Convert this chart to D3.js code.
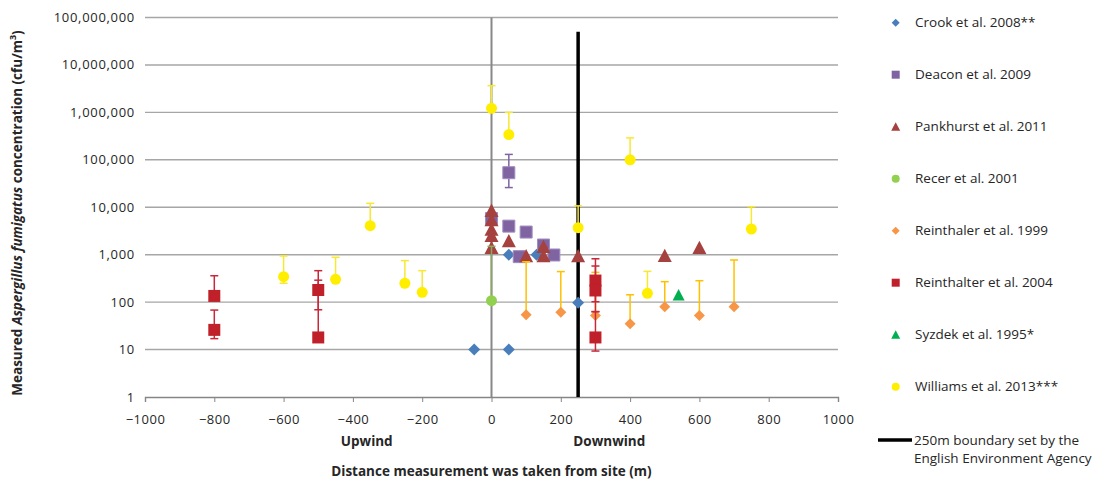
<!DOCTYPE html>
<html><head><meta charset="utf-8">
<script src="https://cdn.jsdelivr.net/npm/d3@7"></script>
<style>body{margin:0;background:#fff}svg{display:block}text{font-family:"Open Sans",sans-serif;fill:#262626}</style>
</head><body><svg id="c" width="1104" height="479"></svg>
<script>
// ---- data: [distance m, concentration, lowErr?, highErr?] ----
const crook = [[-50,10],[50,10],[50,1000],[130,1000],[250,97]];
const deacon = [[0,5800],[50,53500,26000,130000],[50,4000],[100,3000],[150,1600],[180,985],[80,910]];
const pankhurst = [[0,8500],[0,5400],[0,3400],[0,2500],[0,1400],[50,1940],[100,940],[150,1470],[150,940],[250,940],[500,950],[600,1400]];
const recer = [[0,107,null,1500]];
const reinthaler = [[100,54,null,710],[200,61,null,440],[300,52,null,425],[400,35,null,143],[500,80,null,270],[600,52,null,283],[700,80,null,773]];
const reinthalter = [[-800,135,null,360],[-800,26,17,68],[-500,180,69,460],[-500,18,null,290],[300,285,102,820],[300,176,63,577],[300,18,9.3,63]];
const syzdek = [[540,141]];
const williams = [[0,1220000,null,3650000],[50,340000,null,1000000],[400,100000,null,290000],[250,3700,null,10700],[750,3480,null,10260],[-350,4080,null,12100],[-600,344,250,940],[-450,303,null,880],[-250,250,null,750],[-200,161,null,460],[450,153,null,445]];
const seriesNames = ["Crook et al. 2008**","Deacon et al. 2009","Pankhurst et al. 2011","Recer et al. 2001","Reinthaler et al. 1999","Reinthalter et al. 2004","Syzdek et al. 1995*","Williams et al. 2013***"];
const xTicks = [-1000,-800,-600,-400,-200,0,200,400,600,800,1000];
const yTicks = [1,10,100,1000,10000,100000,1000000,10000000,100000000];
const boundaryX = 250;
const boundaryTop = 50000000;

// ---- styles ----
const styles = [
 {data:crook, shape:"diamond", fill:"#4a7ebb", err:"#4a7ebb", size:12},
 {data:deacon, shape:"square", fill:"#8064a2", stroke:"#a08cc0", err:"#8064a2", size:12},
 {data:pankhurst, shape:"triangle", fill:"#a5413e", err:"#a5413e", size:14},
 {data:recer, shape:"circle", fill:"#92d050", err:"#8aa85e", size:11},
 {data:reinthaler, shape:"diamond", fill:"#f79646", err:"#ffc000", size:11},
 {data:reinthalter, shape:"square", fill:"#c0202a", err:"#c8283a", size:12},
 {data:syzdek, shape:"triangle", fill:"#00b050", err:"#00b050", size:12},
 {data:williams, shape:"circle", fill:"#ffee00", err:"#f7e830", size:11}
];

const svg = d3.select("#c");
const x = d3.scaleLinear().domain([-1000,1000]).range([145,838]);
const y = d3.scaleLog().domain([1,1e8]).range([397,17.5]);

function shapePath(shape, s){
  const h=s/2;
  if(shape==="diamond") return `M0,${-h}L${h},0L0,${h}L${-h},0Z`;
  if(shape==="square") return `M${-h},${-h}H${h}V${h}H${-h}Z`;
  if(shape==="triangle") return `M0,${-h}L${h},${h*0.9}L${-h},${h*0.9}Z`;
  return d3.symbol(d3.symbolCircle, Math.PI*h*h)();
}

// gridlines
svg.append("g").selectAll("line").data(yTicks.slice(1)).join("line")
  .attr("x1",x(-1000)).attr("x2",x(1000)).attr("y1",d=>y(d)).attr("y2",d=>y(d))
  .attr("stroke","#a6a6a6").attr("stroke-width",1.4);

// y tick labels
svg.append("g").selectAll("text").data(yTicks).join("text")
  .attr("x",135).attr("y",d=>y(d)).attr("dy","0.35em").attr("text-anchor","end")
  .attr("font-size",13).attr("letter-spacing",0.7).text(d=>d3.format(",")(d));

// x axis
const xa = svg.append("g").attr("transform",`translate(0,${y(1)})`)
  .call(d3.axisBottom(x).tickValues(xTicks).tickSize(5).tickPadding(13).tickFormat(d=>d<0?"\u2212"+Math.abs(d):d));
xa.select(".domain").attr("stroke","#868686").attr("stroke-width",1.4);
xa.selectAll(".tick line").attr("stroke","#868686");
xa.selectAll(".tick text").attr("font-size",13).attr("letter-spacing",0.5).attr("fill","#262626").attr("font-family","Open Sans");

// vertical axis at 0
svg.append("line").attr("x1",x(0)).attr("x2",x(0)).attr("y1",y(1e8)).attr("y2",y(1))
  .attr("stroke","#888").attr("stroke-width",2);

// boundary line
svg.append("line").attr("x1",x(boundaryX)).attr("x2",x(boundaryX)).attr("y1",y(boundaryTop)).attr("y2",y(1))
  .attr("stroke","#000").attr("stroke-width",3.5);

// series
styles.forEach(st=>{
  const g = svg.append("g");
  st.data.forEach(d=>{
    const cx=x(d[0]);
    const cap=(v)=>g.append("line").attr("x1",cx-4).attr("x2",cx+4).attr("y1",y(v)).attr("y2",y(v)).attr("stroke",st.err).attr("stroke-width",1.5);
    if(d[3]!=null){ g.append("line").attr("x1",cx).attr("x2",cx).attr("y1",y(d[1])).attr("y2",y(d[3])).attr("stroke",st.err).attr("stroke-width",1.5); cap(d[3]); }
    if(d[2]!=null){ g.append("line").attr("x1",cx).attr("x2",cx).attr("y1",y(d[1])).attr("y2",y(d[2])).attr("stroke",st.err).attr("stroke-width",1.5); cap(d[2]); }
  });
  g.selectAll("path").data(st.data).join("path")
    .attr("transform",d=>`translate(${x(d[0])},${y(d[1])})`)
    .attr("d",shapePath(st.shape, st.size)).attr("fill",st.fill)
    .attr("stroke",st.stroke||"none").attr("stroke-width",st.stroke?1:0);
});

// axis titles
svg.append("text").attr("x",x(-360)).attr("y",446).attr("text-anchor","middle").attr("font-size",13.5).attr("font-weight","bold").text("Upwind");
svg.append("text").attr("x",x(340)).attr("y",446).attr("text-anchor","middle").attr("font-size",13.5).attr("font-weight","bold").text("Downwind");
svg.append("text").attr("x",x(0)).attr("y",476).attr("text-anchor","middle").attr("font-size",13.5).attr("font-weight","bold").text("Distance measurement was taken from site (m)");

const yt = svg.append("text").attr("transform","translate(22,213) rotate(-90)").attr("text-anchor","middle").attr("font-size",13.5).attr("font-weight","bold");
yt.append("tspan").text("Measured ");
yt.append("tspan").attr("font-style","italic").text("Aspergillus fumigatus");
yt.append("tspan").text(" concentration (cfu/m");
yt.append("tspan").attr("font-size",9).attr("dy",-6).text("3");
yt.append("tspan").attr("dy",6).text(")");

// legend
const lg = svg.append("g");
styles.forEach((st,i)=>{
  const ly = 22.7 + i*52;
  lg.append("path").attr("transform",`translate(895.7,${ly})`).attr("d",shapePath(st.shape, st.shape==="triangle"?9:8)).attr("fill",st.fill);
  lg.append("text").attr("x",915).attr("y",ly).attr("dy","0.35em").attr("font-size",13.5).text(seriesNames[i]);
});
lg.append("line").attr("x1",878).attr("x2",912).attr("y1",440).attr("y2",440).attr("stroke","#000").attr("stroke-width",3.5);
lg.append("text").attr("x",914).attr("y",440).attr("dy","0.35em").attr("font-size",13.5).text("250m boundary set by the");
lg.append("text").attr("x",914).attr("y",458).attr("dy","0.35em").attr("font-size",13.5).text("English Environment Agency");
</script></body></html>
